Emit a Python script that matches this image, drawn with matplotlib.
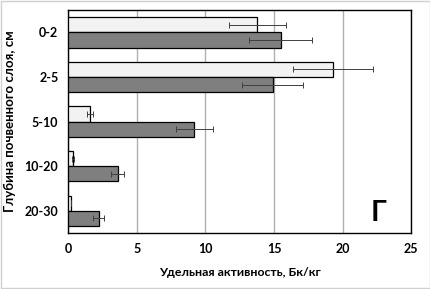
import matplotlib
matplotlib.use("Agg")
import matplotlib.pyplot as plt
import numpy as np

categories = ["0-2", "2-5", "5-10", "10-20", "20-30"]
light_vals = [13.8, 19.3, 1.6, 0.35, 0.2]
light_err = [2.05, 2.9, 0.2, 0.05, 0.0]
dark_vals = [15.5, 14.9, 9.2, 3.6, 2.25]
dark_err = [2.3, 2.2, 1.35, 0.5, 0.4]

plt.rcParams['font.family'] = ['Lato', 'DejaVu Sans']
plt.rcParams['font.weight'] = 'bold'

fig = plt.figure(figsize=(4.31, 2.89), dpi=100)
ax = fig.add_axes([0.158, 0.194, 0.796, 0.771])

y = np.arange(len(categories))
h = 0.34
ekw = dict(ecolor='#404040', elinewidth=0.7, capsize=2, capthick=0.7)
ax.barh(y - h/2, light_vals, height=h, color='#f2f2f2', edgecolor='black', linewidth=0.9,
        xerr=light_err, error_kw=ekw, zorder=3)
ax.barh(y + h/2, dark_vals, height=h, color='#7f7f7f', edgecolor='black', linewidth=0.9,
        xerr=dark_err, error_kw=ekw, zorder=3)

ax.set_ylim(len(categories) - 0.5, -0.5)
ax.set_xlim(0, 25)
ax.set_xticks([0, 5, 10, 15, 20, 25])
ax.set_yticks(y)
ax.set_yticklabels(categories)
ax.tick_params(axis='x', labelsize=9, length=0, pad=7)
ax.tick_params(axis='y', labelsize=9, length=0, pad=7)
ax.xaxis.grid(True, color='#b0b0b0', linewidth=1.0, zorder=0)
ax.set_axisbelow(True)
for s in ax.spines.values():
    s.set_color('black')
    s.set_linewidth(1.0)

ax.set_xlabel("Удельная активность, Бк/кг", fontsize=8.9, fontweight='bold', labelpad=9)
ax.set_ylabel("Глубина почвенного слоя, см", fontsize=9.5, fontweight='bold', labelpad=6)
ax.text(22.6, 4.05, "Г", fontsize=21, fontweight='bold', ha='center', va='center')

fig.patches.append(plt.Rectangle((0.003, 0.003), 0.994, 0.994, transform=fig.transFigure,
                                 fill=False, edgecolor='#d0d0d0', linewidth=1.0))
fig.savefig("out.png", dpi=100)
